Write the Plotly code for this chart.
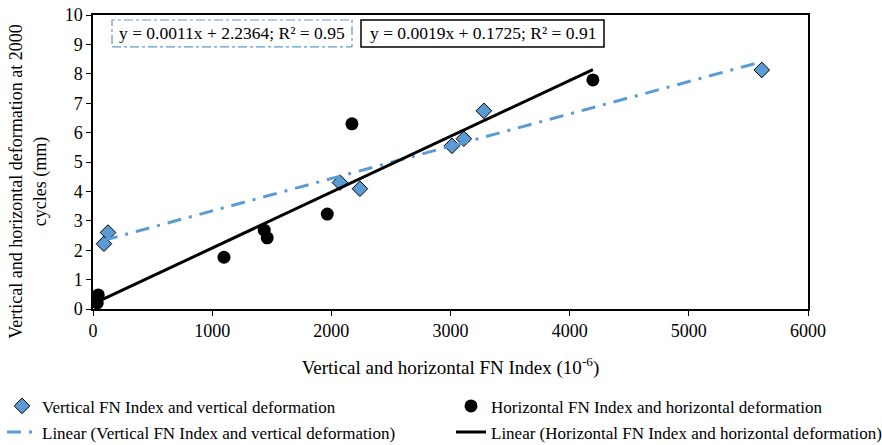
import plotly.graph_objects as go
import numpy as np

# ---- data ----
vert_x = [92, 126, 2072, 2240, 3012, 3112, 3280, 5612]
vert_y = [2.22, 2.60, 4.30, 4.09, 5.55, 5.79, 6.74, 8.13]
hor_x = [44, 36, 1099, 1437, 1462, 1966, 2173, 4195]
hor_y = [0.48, 0.21, 1.76, 2.68, 2.42, 3.23, 6.30, 7.79]
vert_fit = [0.0011, 2.2364]   # slope, intercept
hor_fit = [0.0019, 0.1725]
vert_eq = "y = 0.0011x + 2.2364; R² = 0.95"
hor_eq = "y = 0.0019x + 0.1725; R² = 0.91"
names = ["Vertical FN Index and vertical deformation",
         "Horizontal FN Index and horizontal deformation",
         "Linear (Vertical FN Index and vertical deformation)",
         "Linear (Horizontal FN Index and horizontal deformation)"]
x_ticks = [0, 1000, 2000, 3000, 4000, 5000, 6000]
y_ticks = list(range(0, 11))

BLUE = "#5B9BD5"
FONT = "Liberation Serif, Times New Roman, serif"
FS = 17

fig = go.Figure()

vx = np.array([min(vert_x), max(vert_x)])
hx = np.array([min(hor_x), max(hor_x)])

fig.add_trace(go.Scatter(x=vert_x, y=vert_y, mode="markers", name=names[0],
                         marker=dict(symbol="diamond", size=12, color=BLUE,
                                     line=dict(color="black", width=1)),
                         legend="legend", legendgroup="a"))
fig.add_trace(go.Scatter(x=vx, y=vert_fit[0] * vx + vert_fit[1], mode="lines", name=names[2],
                         line=dict(color=BLUE, width=3, dash="14px,8px,3px,8px"),
                         legend="legend", legendgroup="b"))
fig.add_trace(go.Scatter(x=hor_x, y=hor_y, mode="markers", name=names[1],
                         marker=dict(symbol="circle", size=13, color="black"),
                         legend="legend2", legendgroup="c"))
fig.add_trace(go.Scatter(x=hx, y=hor_fit[0] * hx + hor_fit[1], mode="lines", name=names[3],
                         line=dict(color="black", width=3),
                         legend="legend2", legendgroup="d"))

W, H = 882, 445
L, R, T, B = 93, 882 - 808, 15, 445 - 309.5
pw, ph = W - L - R, H - T - B

def px(xp):
    return (xp - L) / pw

def py(yp):
    return (H - B - yp) / ph

axis_common = dict(showline=True, linecolor="black", linewidth=1.5, mirror=True,
                   ticks="outside", ticklen=5, tickcolor="black", showgrid=False,
                   zeroline=False, tickfont=dict(family=FONT, size=18, color="black"))

fig.update_layout(
    width=W, height=H,
    margin=dict(l=L, r=R, t=T, b=B, autoexpand=False),
    paper_bgcolor="white", plot_bgcolor="white",
    font=dict(family=FONT, size=FS, color="black"),
    xaxis=dict(range=[0, 6000], tickvals=x_ticks, **axis_common,
               title=dict(text="Vertical and horizontal FN Index (10<sup>-6</sup>)",
                          font=dict(family=FONT, size=19), standoff=20)),
    yaxis=dict(range=[0, 10], tickvals=y_ticks, **axis_common),
    legend=dict(x=px(2), y=py(389), xanchor="left", yanchor="top",
                font=dict(family=FONT, size=FS), tracegroupgap=1,
                bgcolor="rgba(0,0,0,0)"),
    legend2=dict(x=px(451), y=py(389), xanchor="left", yanchor="top",
                 font=dict(family=FONT, size=FS), tracegroupgap=1,
                 bgcolor="rgba(0,0,0,0)"),
    showlegend=True,
)

# y-axis title as annotation
fig.add_annotation(text="Vertical and horizontal deformation at 2000<br>cycles (mm)",
                   xref="paper", yref="paper", x=px(28), y=py(182), textangle=-90,
                   xanchor="center", yanchor="middle",
                   showarrow=False, font=dict(family=FONT, size=18), align="center")

# equation boxes
fig.add_shape(type="rect", xref="paper", yref="paper", x0=px(112), x1=px(352),
              y0=py(47), y1=py(20), line=dict(color=BLUE, width=1.2, dash="dashdot"))
fig.add_shape(type="rect", xref="paper", yref="paper", x0=px(361), x1=px(604),
              y0=py(47), y1=py(20), line=dict(color="black", width=1.5))
fig.add_annotation(text=vert_eq, xref="paper", yref="paper", x=px(232), y=py(33.5),
                   xanchor="center", yanchor="middle",
                   showarrow=False, font=dict(family=FONT, size=17.5))
fig.add_annotation(text=hor_eq, xref="paper", yref="paper", x=px(482.5), y=py(33.5),
                   xanchor="center", yanchor="middle",
                   showarrow=False, font=dict(family=FONT, size=17.5))

fig.write_html("out.html")
